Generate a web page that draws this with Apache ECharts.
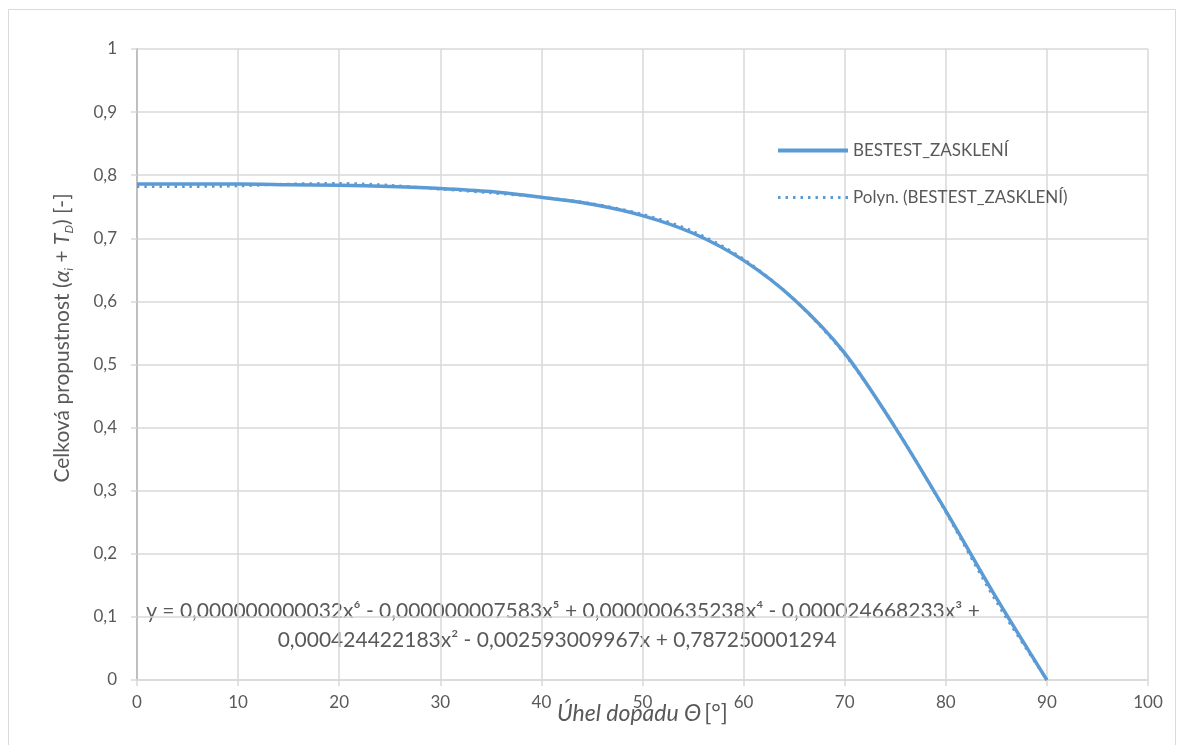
<!DOCTYPE html>
<html>
<head>
<meta charset="utf-8">
<script src="https://cdn.jsdelivr.net/npm/echarts@6/dist/echarts.min.js"></script>
<style>
  html, body { margin: 0; padding: 0; background: #fff; }
  #chart { width: 1183px; height: 745px; }
</style>
</head>
<body>
<div id="chart"></div>
<script>
// uhel dopadu [deg]
var angles = [0, 5, 10, 15, 20, 25, 30, 35, 40, 45, 50, 55, 60, 65, 70, 75, 80, 85, 90];
// BESTEST_ZASKLENI - celkova propustnost
var bestest = [0.786, 0.786, 0.786, 0.785, 0.784, 0.782, 0.779, 0.774, 0.765, 0.754, 0.736, 0.708, 0.665, 0.603, 0.518, 0.400, 0.268, 0.130, 0.000];
// polynomicky trend
var polyn = [0.782, 0.782, 0.783, 0.786, 0.787, 0.784, 0.778, 0.772, 0.765, 0.755, 0.738, 0.711, 0.667, 0.603, 0.516, 0.401, 0.266, 0.124, 0.000];

var seriesNames = ['BESTEST_ZASKLENÍ', 'Polyn. (BESTEST_ZASKLENÍ)'];
var eqLine1 = 'y = 0,000000000032x⁶ - 0,000000007583x⁵ + 0,000000635238x⁴ - 0,000024668233x³ +';
var eqLine2 = '0,000424422183x² - 0,002593009967x + 0,787250001294';

var FONT = 'Lato';
var TXT = '#595959';
var BLUE = '#5B9BD5';

var chart = echarts.init(document.getElementById('chart'));

function pairs(xs, ys) {
    return xs.map(function (x, i) { return [x, ys[i]]; });
}

var option = {
    animation: false,
    textStyle: { fontFamily: FONT },
    grid: { left: 137, right: 35, top: 49, bottom: 65 },
    legend: {
        orient: 'vertical',
        left: 771,
        top: 137,
        itemWidth: 70,
        itemHeight: 14,
        itemGap: 30,
        itemStyle: { opacity: 0 },
        textStyle: { fontFamily: FONT, fontSize: 17, color: TXT },
        data: [
            { name: seriesNames[0], lineStyle: { width: 4 } },
            { name: seriesNames[1], lineStyle: { width: 3, type: [2.5, 5] } }
        ]
    },
    xAxis: {
        type: 'value',
        min: 0, max: 100, interval: 10,
        name: '{i|Úhel dopadu Θ} {n|[°]}',
        nameLocation: 'middle',
        nameGap: 22,
        nameMoveOverlap: false,
        nameTextStyle: {
            rich: {
                i: { fontFamily: FONT, fontSize: 23, fontStyle: 'italic', color: TXT },
                n: { fontFamily: FONT, fontSize: 23, color: TXT }
            }
        },
        axisLine: { show: true, lineStyle: { color: '#D9D9D9', width: 1.5 } },
        axisTick: { show: true, length: 6, lineStyle: { color: '#D9D9D9', width: 1.5 } },
        axisLabel: { margin: 14, fontFamily: FONT, fontSize: 17, color: TXT },
        splitLine: { show: true, lineStyle: { color: '#D9D9D9', width: 1.5 } }
    },
    yAxis: {
        type: 'value',
        min: 0, max: 1, interval: 0.1,
        axisLine: { show: true, lineStyle: { color: '#BFBFBF', width: 2 } },
        axisTick: { show: true, length: 6, lineStyle: { color: '#D9D9D9', width: 1.5 } },
        axisLabel: {
            margin: 20,
            fontFamily: FONT, fontSize: 17, color: TXT,
            formatter: function (v) { return String(Math.round(v * 10) / 10).replace('.', ','); }
        },
        splitLine: { show: true, lineStyle: { color: '#D9D9D9', width: 1.5 } }
    },
    series: [
        {
            name: seriesNames[0],
            type: 'line',
            smooth: 0.3,
            symbol: 'none',
            lineStyle: { color: BLUE, width: 3.5 },
            itemStyle: { color: BLUE },
            data: pairs(angles, bestest)
        },
        {
            name: seriesNames[1],
            type: 'line',
            smooth: 0.3,
            symbol: 'none',
            lineStyle: { color: BLUE, width: 2.8, type: [2.5, 5] },
            itemStyle: { color: BLUE },
            data: pairs(angles, polyn)
        }
    ],
    graphic: [
        {
            type: 'rect', silent: true, z: -1,
            shape: { x: 8.5, y: 9.5, width: 1167, height: 760 },
            style: { fill: 'none', stroke: '#D9D9D9', lineWidth: 1 }
        },
        {
            // popis osy y (otoceny)
            type: 'text', x: 62, y: 338, rotation: Math.PI / 2,
            style: {
                text: '{n|Celková propustnost (}{g|α}{s|i}{n| + }{g|T}{s|D}{n|) [-]}',
                align: 'center', verticalAlign: 'middle',
                rich: {
                    n: { fontFamily: FONT, fontSize: 21, fill: TXT, lineHeight: 26, verticalAlign: 'middle' },
                    g: { fontFamily: FONT, fontSize: 21, fontStyle: 'italic', fill: TXT, lineHeight: 26, verticalAlign: 'middle' },
                    s: { fontFamily: FONT, fontSize: 12, fontStyle: 'italic', fill: TXT, lineHeight: 26, verticalAlign: 'bottom', padding: [8, 0, 0, 0] }
                }
            }
        },
        {
            type: 'text', x: 563, y: 611,
            style: { text: eqLine1, fontFamily: FONT, fontSize: 21, fill: TXT, align: 'center', verticalAlign: 'middle' }
        },
        {
            type: 'text', x: 557, y: 640,
            style: { text: eqLine2, fontFamily: FONT, fontSize: 21, fill: TXT, align: 'center', verticalAlign: 'middle' }
        }
    ]
};

chart.setOption(option);
</script>
</body>
</html>
